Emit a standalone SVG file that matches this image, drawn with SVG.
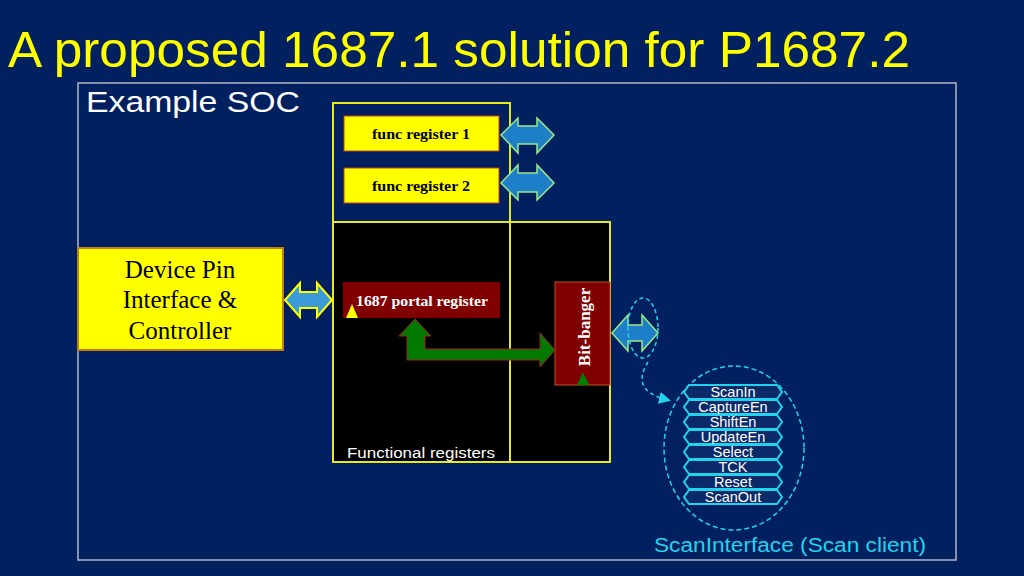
<svg xmlns="http://www.w3.org/2000/svg" width="1024" height="576" viewBox="0 0 1024 576">
<style>
.serif{font-family:"Liberation Serif","DejaVu Serif",serif}
.sans{font-family:"Liberation Sans",Arial,sans-serif}
.hex{fill:#0a2a6a;stroke:#22d3ee;stroke-width:2}
.ht{font-family:"Liberation Sans",Arial,sans-serif;font-size:14.5px;fill:#fff;text-anchor:middle}
.barrow{fill:#1e7fc8;stroke:#9be88a;stroke-width:1.5}
</style>
<defs><marker id="ca" markerWidth="8" markerHeight="8" refX="6" refY="4" orient="auto"><path d="M0,0 L8,4 L0,8z" fill="#22d3ee"/></marker></defs>
<rect width="1024" height="576" fill="#002060"/>
<text x="8" y="67" class="sans" font-size="50" fill="#ffff00" textLength="902" lengthAdjust="spacingAndGlyphs">A proposed 1687.1 solution for P1687.2</text>
<rect x="78" y="83" width="878" height="477" fill="none" stroke="#b0b8c8" stroke-width="1.5"/>
<text x="86" y="112" class="sans" font-size="30" fill="#fff" textLength="214" lengthAdjust="spacingAndGlyphs">Example SOC</text>
<g id="funcgroup"><rect x="333" y="103" width="177" height="119" fill="#002060" stroke="#e8e820" stroke-width="2"/></g>
<g id="functional"><rect x="333" y="222" width="277" height="240" fill="#000" stroke="#e8e820" stroke-width="2"/>
<line x1="510" y1="222" x2="510" y2="462" stroke="#e8e820" stroke-width="2"/>
<text x="347" y="458" class="sans" font-size="15.5" fill="#fff" textLength="148" lengthAdjust="spacingAndGlyphs">Functional registers</text></g>
<g id="fr1"><rect x="344" y="116" width="155" height="35" fill="#ffff00" stroke="#c04020"/><text x="372" y="139" class="serif" font-size="15" font-weight="bold" fill="#000" textLength="98" lengthAdjust="spacingAndGlyphs">func register 1</text></g>
<g id="fr2"><rect x="344" y="168" width="155" height="35" fill="#ffff00" stroke="#c04020"/><text x="372" y="191" class="serif" font-size="15" font-weight="bold" fill="#000" textLength="98" lengthAdjust="spacingAndGlyphs">func register 2</text></g>
<g id="dev"><rect x="78" y="248" width="205" height="102" fill="#ffff00" stroke="#c08020" stroke-width="2"/>
<text class="serif" font-size="25" fill="#000" text-anchor="middle"><tspan x="180" y="278">Device Pin</tspan><tspan x="180" y="308">Interface &amp;</tspan><tspan x="180" y="339">Controller</tspan></text></g>
<g id="portal"><rect x="343" y="282" width="157" height="36" fill="#800000"/><text x="356" y="306" class="serif" font-size="15" font-weight="bold" fill="#fff" textLength="132" lengthAdjust="spacingAndGlyphs">1687 portal register</text><path d="M346,318 L352,304 L358,318z" fill="#ffff00"/></g>
<g id="bitbanger"><rect x="555" y="282" width="55" height="103" fill="#800000" stroke="#c05020"/><text transform="translate(590,327) rotate(-90)" class="serif" font-size="17" font-weight="bold" fill="#fff" text-anchor="middle">Bit-banger</text><path d="M577,385 L583,372 L589,385z" fill="#008000"/></g>
<g id="scanif"><ellipse cx="734" cy="448" rx="70" ry="82" fill="none" stroke="#22d3ee" stroke-width="1.5" stroke-dasharray="5,3"/>
<g id="sigs">
<path class="hex" d="M689,385 H777 L782,392 L777,399 H689 L684,392z"/><text class="ht" x="733" y="397">ScanIn</text>
<path class="hex" d="M689,400 H777 L782,407 L777,414 H689 L684,407z"/><text class="ht" x="733" y="412">CaptureEn</text>
<path class="hex" d="M689,415 H777 L782,422 L777,429 H689 L684,422z"/><text class="ht" x="733" y="427">ShiftEn</text>
<path class="hex" d="M689,430 H777 L782,437 L777,444 H689 L684,437z"/><text class="ht" x="733" y="442">UpdateEn</text>
<path class="hex" d="M689,445 H777 L782,452 L777,459 H689 L684,452z"/><text class="ht" x="733" y="457">Select</text>
<path class="hex" d="M689,460 H777 L782,467 L777,474 H689 L684,467z"/><text class="ht" x="733" y="472">TCK</text>
<path class="hex" d="M689,475 H777 L782,482 L777,489 H689 L684,482z"/><text class="ht" x="733" y="487">Reset</text>
<path class="hex" d="M689,490 H777 L782,497 L777,504 H689 L684,497z"/><text class="ht" x="733" y="502">ScanOut</text>
</g>
<text x="654" y="552" class="sans" font-size="20" fill="#22d3ee" textLength="272" lengthAdjust="spacingAndGlyphs">ScanInterface (Scan client)</text></g>
<g id="connectors">
<path class="barrow" d="M501,135 L518,118 V126 H537 V118 L554,135 L537,153 V144 H518 V153z"/>
<path class="barrow" d="M501,183 L518,165 V173 H537 V165 L554,183 L537,200 V192 H518 V200z"/>
<path d="M285,300 L300,283 V292 H317 V283 L332,300 L317,317 V308 H300 V317z" fill="#3a9bd8" stroke="#ffff00" stroke-width="2"/>
<path d="M399,336 L415,319 L431,336 H425 V349 H540 V333 L555,350 L540,367 V360 H407 V336z" fill="#007a00" stroke="#a02020" stroke-width="1"/>
<path class="barrow" d="M612,333 L628,315 V325 H642 V315 L658,333 L642,351 V341 H628 V351z"/>
<ellipse cx="643" cy="328" rx="15" ry="30" fill="none" stroke="#22d3ee" stroke-width="1.5" stroke-dasharray="4,3"/>
<path d="M648,362 C640,375 635,392 668,400" fill="none" stroke="#22d3ee" stroke-width="1.5" stroke-dasharray="4,3" marker-end="url(#ca)"/>
</g>
</svg>
